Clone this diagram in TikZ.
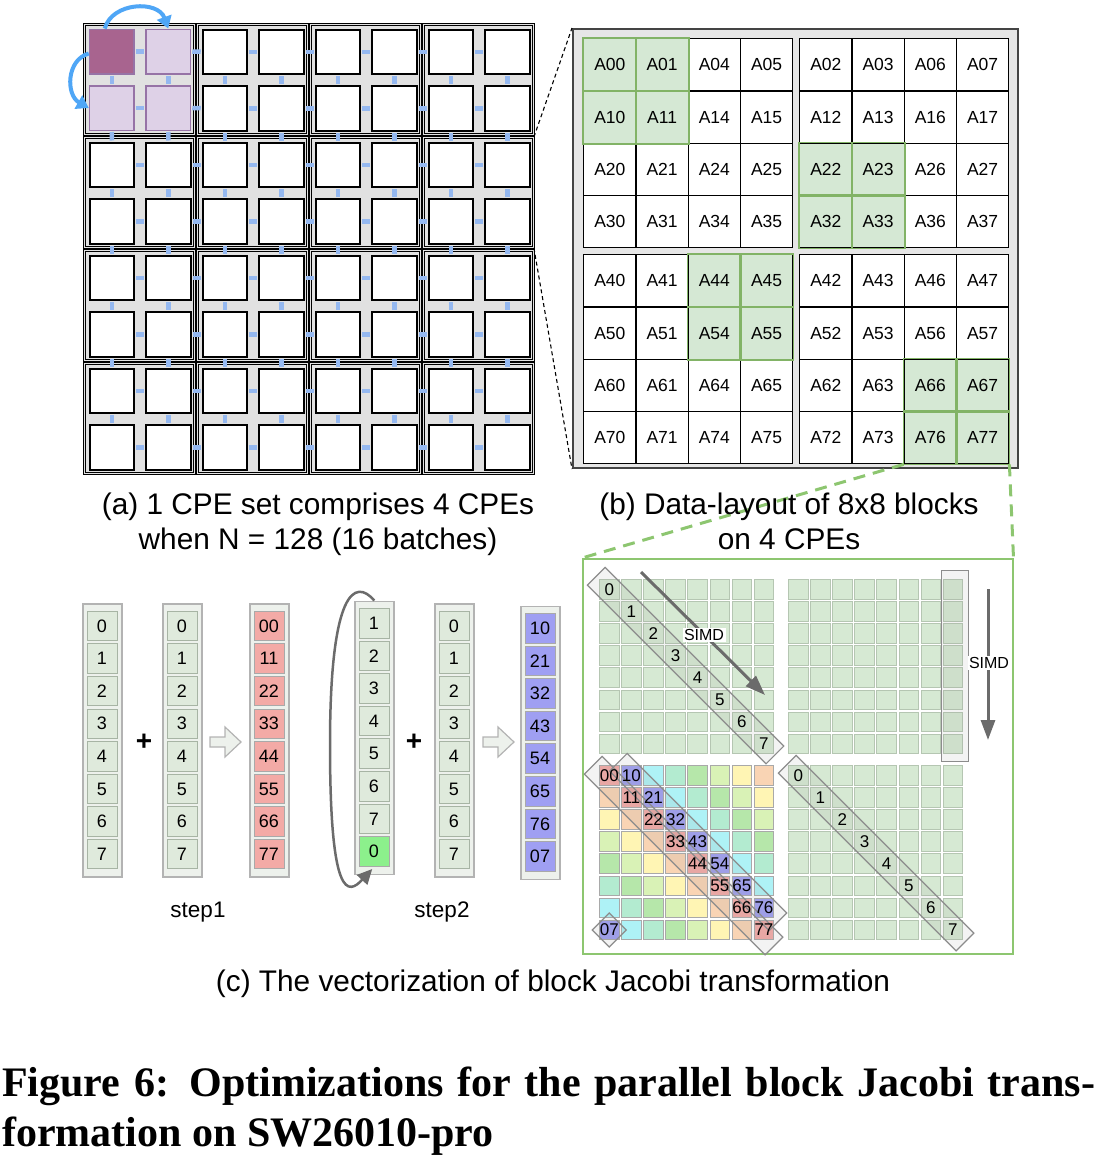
\documentclass[tikz,border=0pt]{standalone}
\usepackage{fontspec}
\setmainfont{Liberation Sans}
\newfontfamily\capserif{Liberation Serif}
\usetikzlibrary{arrows.meta,calc}

\definecolor{setgray}{HTML}{E1E1E1}
\definecolor{linkblue}{HTML}{94B8F0}
\definecolor{arrblue}{HTML}{4FA6F6}
\definecolor{purdark}{HTML}{A8648F}
\definecolor{purlight}{HTML}{DED1E7}
\definecolor{purline}{HTML}{9673A6}
\definecolor{panelgray}{HTML}{E6E6E6}
\definecolor{panelline}{HTML}{444444}
\definecolor{gfill}{HTML}{D5E8D4}
\definecolor{gline}{HTML}{82B366}
\definecolor{dashgreen}{HTML}{8DC670}
\definecolor{cfill}{HTML}{D6E9D3}
\definecolor{cline}{HTML}{B5C6B2}
\definecolor{cgray}{HTML}{A9A9A9}
\definecolor{dc0}{HTML}{F3AAA6}
\definecolor{dc1}{HTML}{9F9FF2}
\definecolor{dc2}{HTML}{AEF2F6}
\definecolor{dc3}{HTML}{B3EBD0}
\definecolor{dc4}{HTML}{B6E7AA}
\definecolor{dc5}{HTML}{D9F2B6}
\definecolor{dc6}{HTML}{FFF5B4}
\definecolor{dc7}{HTML}{F9D4B4}
\definecolor{vecfill}{HTML}{DFEADC}
\definecolor{vecline}{HTML}{A7B4A4}
\definecolor{vecboxfill}{HTML}{EDF1EC}
\definecolor{vecboxline}{HTML}{B3B3B3}
\definecolor{brightgreen}{HTML}{8CF08C}
\definecolor{arrgray}{HTML}{6B6B6B}

\tikzset{
  setbox/.style={draw=black, line width=0.9pt, double=setgray, double distance=1.6pt, fill=setgray, inner sep=0, minimum width=110, minimum height=110, anchor=north west},
  cpe/.style={draw=black, line width=2pt, fill=white, inner sep=0, minimum size=44.5, anchor=north west},
  sqs-0-0/.style={fill=purdark, draw=purline, line width=1.5pt},
  sqs-0-1/.style={fill=purlight, draw=purline, line width=1.5pt},
  sqs-1-0/.style={fill=purlight, draw=purline, line width=1.5pt},
  sqs-1-1/.style={fill=purlight, draw=purline, line width=1.5pt},
  link/.style={draw=linkblue, line width=4.5pt, shorten >=1pt, shorten <=1pt},
  bluearrow/.style={draw=arrblue, line width=4pt, -{Triangle[length=12pt,width=15pt]}},
  bpanelbox/.style={draw=panelline, line width=2pt, fill=panelgray, inner sep=0, anchor=north west},
  bcell/.style={draw=black, line width=1.4pt, fill=white, inner sep=0, minimum size=52.25, anchor=north west, font=\fontsize{17.5}{20}\selectfont},
  zoomline/.style={draw=black, line width=1.1pt, dash pattern=on 4pt off 3pt},
  gzoom/.style={draw=dashgreen, line width=3pt, dash pattern=on 12pt off 8pt},
  cpanelbox/.style={draw=dashgreen, line width=1.5pt, inner sep=0, anchor=north west},
  ccell/.style={draw=cline, line width=1pt, fill=cfill, inner sep=0, minimum size=19.5, anchor=north west},
  clabel/.style={inner sep=0, font=\fontsize{17}{18}\selectfont},
  band/.style={draw=black!45, line width=1.2pt, fill=black!40, fill opacity=0.12, inner sep=0, minimum height=25, rotate=-45},
  bandbox/.style={draw=black!45, line width=1.2pt, fill=black!40, fill opacity=0.12, inner sep=0, anchor=north west},
  simdarrow/.style={draw=arrgray, line width=3pt, -{Triangle[length=20pt,width=14pt]}},
  simdlabel/.style={fill=white, inner sep=1.5pt, font=\fontsize{16}{18}\selectfont},
  vecbox/.style={draw=vecboxline, line width=1.5pt, fill=vecboxfill, inner sep=0, minimum width=39, minimum height=273, anchor=north west},
  veccell/.style={draw=vecline, line width=1pt, fill=vecfill, inner sep=0, minimum width=30, minimum height=29.5, anchor=north west, font=\fontsize{18}{20}\selectfont},
  curvarrow/.style={draw=arrgray, line width=2.5pt, -{Triangle[length=15pt,width=14pt]}},
  hollow/.style={draw=vecboxline, line width=1.2pt, fill=vecboxfill},
  caption/.style={inner sep=0, anchor=base, font=\fontsize{29.8}{35}\selectfont},
  steplabel/.style={inner sep=0, anchor=base, font=\fontsize{22.5}{26}\selectfont},
  plussign/.style={inner sep=0, font=\bfseries\fontsize{28}{30}\selectfont},
}

\newcommand\diagband[3]{%
  \path let \p1=(#2), \p2=(#3), \n1={veclen(\x2-\x1,\y2-\y1)} in
    node[band, minimum width=\n1] (#1) at ($(#2)!0.5!(#3)$) {};
}

\begin{document}
\begin{tikzpicture}[x=1pt,y=-1pt]
\useasboundingbox (0,0) rectangle (1112,1168);

% ---------------- (a) ----------------
\foreach \r in {0,...,3}{\foreach \c in {0,...,3}{
  \node[setbox] (set-\r-\c) at ({84+113*\c},{24+113*\r}) {};
}}
\foreach \R in {0,...,7}{\foreach \C in {0,...,7}{
  \pgfmathsetmacro\sx{84+113*int(\C/2)+4.75+56.5*mod(\C,2)}
  \pgfmathsetmacro\sy{24+113*int(\R/2)+4.5+56.5*mod(\R,2)}
  \node[cpe, sqs-\R-\C/.try] (sq-\R-\C) at (\sx,\sy) {};
}}
\foreach \R in {0,...,7}{\foreach \C [evaluate=\C as \Cn using int(\C+1)] in {0,...,6}{
  \draw[link] (sq-\R-\C.east) -- (sq-\R-\Cn.west);
  \draw[link] (sq-\C-\R.south) -- (sq-\Cn-\R.north);
}}
\draw[bluearrow] ($(sq-0-0.north)+(-7,0)$) .. controls (112,2) and (158,0) .. (sq-0-1.north);
\draw[bluearrow] ($(sq-0-0.west)+(0,2)$) .. controls (66,60) and (66,95) .. (sq-1-0.west);

% ---------------- (b) ----------------
\node[bpanelbox, minimum width=445, minimum height=439] (bpanel) at (572,28) {};
\foreach \R in {0,...,7}{\foreach \V in {0,...,7}{
  \pgfmathtruncatemacro\col{{0,1,4,5,2,3,6,7}[\V]}
  \pgfmathsetmacro\bx{583+216*int(\V/4)+52.25*mod(\V,4)}
  \pgfmathsetmacro\by{38+216*int(\R/4)+52.25*mod(\R,4)}
  \pgfmathtruncatemacro\isg{int(\R/2)==int(\col/2)}
  \ifnum\isg=1
    \node[bcell, fill=gfill] (b-\R-\V) at (\bx,\by) {A\R\col};
  \else
    \node[bcell] (b-\R-\V) at (\bx,\by) {A\R\col};
  \fi
}}
\foreach \R/\V in {0/0,0/1,1/0,1/1,2/4,2/5,3/4,3/5,4/2,4/3,5/2,5/3,6/6,6/7,7/6,7/7}{
  \draw[gline, line width=1.4pt] (b-\R-\V.north west) rectangle (b-\R-\V.south east);
}
\draw[zoomline] (set-1-3.north east) -- (bpanel.north west);
\draw[zoomline] (set-1-3.south east) -- (bpanel.south west);

% ---------------- (c) right part ----------------
\node[cpanelbox, minimum width=430, minimum height=395] (cpanel) at (582,558) {};
\draw[gzoom] (b-7-6.south west) -- (cpanel.north west);
\draw[gzoom] (b-7-7.south east) -- (cpanel.north east);

\foreach \bn/\bx/\by in {0/599/579, 1/788/579, 3/788/765}{
  \foreach \r in {0,...,7}{\foreach \k in {0,...,7}{
    \node[ccell] (c-\bn-\r-\k) at ({\bx+22.1*\k},{\by+22.1*\r}) {};
  }}
}
\foreach \r in {0,...,7}{\foreach \k in {0,...,7}{
  \pgfmathtruncatemacro\d{mod(\k-\r+8,8)}
  \node[ccell, draw=cgray, fill=dc\d] (c-2-\r-\k) at ({599+22.1*\k},{765+22.1*\r}) {};
}}

% bands
\coordinate (bA-s) at ($(c-0-0-0.center)+(-13,-13)$);
\coordinate (bA-e) at ($(c-0-7-7.center)+(11,11)$);
\diagband{bandA}{bA-s}{bA-e}
\coordinate (bD-s) at ($(c-3-0-0.center)+(-11,-11)$);
\coordinate (bD-e) at ($(c-3-7-7.center)+(12,12)$);
\diagband{bandD}{bD-s}{bD-e}
\coordinate (bM-s) at ($(c-2-0-0.center)+(-16,-10)$);
\coordinate (bM-e) at ($(c-2-7-7.center)+(10,16)$);
\diagband{bandM}{bM-s}{bM-e}
\coordinate (bN-s) at ($(c-2-0-1.center)+(-13,-13)$);
\coordinate (bN-e) at ($(c-2-6-7.center)+(14,14)$);
\diagband{bandN}{bN-s}{bN-e}
\node[band, minimum width=24, minimum height=24] (band07) at (c-2-7-0.center) {};
\node[bandbox, minimum width=27, minimum height=191] (colband) at (941,570) {};

% labels
\foreach \i in {0,...,7}{
  \node[clabel] (lab-0-\i) at (c-0-\i-\i.center) {\i};
  \node[clabel] (lab-3-\i) at (c-3-\i-\i.center) {\i};
  \node[clabel] (lab-2-\i) at (c-2-\i-\i.center) {\i\i};
  \pgfmathtruncatemacro\kk{mod(\i+1,8)}
  \node[clabel] (labb-2-\i) at (c-2-\i-\kk.center) {\kk\i};
}

% SIMD arrows
\coordinate (simd1s) at (641,572);
\coordinate (simd1e) at (765,695);
\draw[simdarrow] (simd1s) -- (simd1e);
\node[simdlabel] (simd1) at (704,635) {SIMD};
\coordinate (simd2s) at (988,589);
\coordinate (simd2e) at (988,740);
\draw[simdarrow] (simd2s) -- (simd2e);
\node[simdlabel] (simd2) at (989,663) {SIMD};

% ---------------- (c) left part: vectors ----------------
\foreach \k/\x/\t in {1/82/610.7, 2/162/610.7, 3/249/610.7, 4/354/608, 5/434/610.7, 6/520/613}{
  \node[vecbox] (sbox-\k) at (\x,{\t-7.5}) {};
}
\foreach \i in {0,...,7}{
  \node[veccell] (s1-\i) at (86.5,{610.7+32.6*\i}) {\i};
  \node[veccell] (s2-\i) at (166.5,{610.7+32.6*\i}) {\i};
  \node[veccell, fill=dc0, draw=cgray] (s3-\i) at (253.5,{610.7+32.6*\i}) {\i\i};
  \node[veccell] (s5-\i) at (438.5,{610.7+32.6*\i}) {\i};
}
\foreach \i in {0,...,6}{
  \pgfmathtruncatemacro\lab{\i+1}
  \node[veccell] (s4-\i) at (358.5,{608+32.6*\i}) {\lab};
}
\node[veccell, fill=brightgreen, draw=cgray] (s4-7) at (358.5,{608+32.6*7}) {0};
\foreach \i/\lab in {0/10,1/21,2/32,3/43,4/54,5/65,6/76,7/07}{
  \node[veccell, fill=dc1, draw=cgray] (s6-\i) at (524.5,{613+32.6*\i}) {\lab};
}
\node[plussign] (plus1) at (144,742) {+};
\node[plussign] (plus2) at (414,742) {+};
\draw[hollow] (210,737) -- (225,737) -- (225,727) -- (241,742) -- (225,757) -- (225,747) -- (210,747) -- cycle;
\draw[hollow] (483,737) -- (498,737) -- (498,727) -- (514,742) -- (498,757) -- (498,747) -- (483,747) -- cycle;
\draw[curvarrow] (sbox-4.north) .. controls (355,578) and (330,590) .. (330,745)
  .. controls (330,900) and (348,895) .. ($(sbox-4.south)+(-2,-6)$);
\node[steplabel] (step1) at (198,917) {step1};
\node[steplabel] (step2) at (442,917) {step2};

% ---------------- captions ----------------
\node[caption] (capa1) at (318,514) {(a) 1 CPE set comprises 4 CPEs};
\node[caption] (capa2) at (318,549) {when N = 128 (16 batches)};
\node[caption] (capb1) at (789,514) {(b) Data-layout of 8x8 blocks};
\node[caption] (capb2) at (789,549) {on 4 CPEs};
\node[caption] (capc) at (553,991) {(c) The vectorization of block Jacobi transformation};
\node[inner sep=0, anchor=base west, font=\capserif\bfseries\fontsize{42}{50}\selectfont] (fig1) at (2,1096)
  {\makebox[1093pt][s]{Figure 6: Optimizations for the parallel block Jacobi trans-}};
\node[inner sep=0, anchor=base west, font=\capserif\bfseries\fontsize{42}{50}\selectfont] (fig2) at (2,1146)
  {formation on SW26010-pro};
\end{tikzpicture}
\end{document}
